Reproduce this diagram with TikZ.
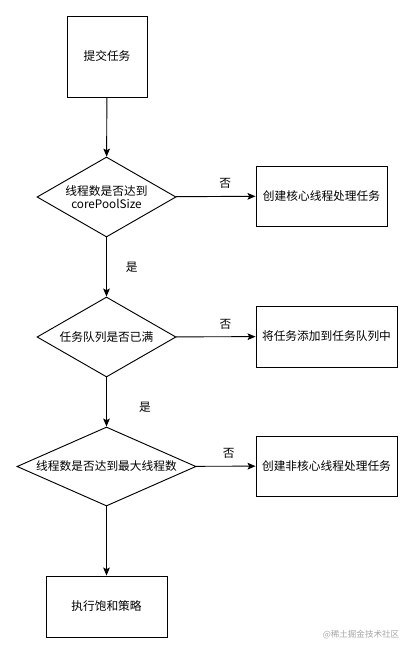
\documentclass[tikz,border=0pt]{standalone}
\usepackage{fontspec}
\setmainfont{Noto Sans CJK SC}
\usetikzlibrary{shapes.geometric,arrows.meta}
\begin{document}
\begin{tikzpicture}[x=.03cm,y=-.03cm,font=\fontsize{10}{11.5}\selectfont,
  box/.style={draw,line width=.8pt,inner sep=0pt},
  test/.style={draw,line width=.8pt,diamond,inner sep=0pt,align=center},
  flow/.style={line width=.8pt,-{Stealth[length=2.4mm,width=2mm,inset=.5mm]}}]
\useasboundingbox (0,0) rectangle (413,653);
\node[box,minimum width=2.4cm,minimum height=2.43cm] (submit) at (107,56.5) {提交任务};
\node[test,aspect=1.75,minimum width=4.17cm,minimum height=2.4cm] (core) at (106.5,197) {线程数是否达到\\corePoolSize};
\node[box,minimum width=3.93cm,minimum height=1.8cm] (newcore) at (321.5,196) {创建核心线程处理任务};
\node[test,aspect=1.75,minimum width=4.17cm,minimum height=2.4cm] (full) at (106.5,337) {任务队列是否已满};
\node[box,minimum width=4.23cm,minimum height=1.83cm] (enqueue) at (326.5,336.5) {将任务添加到任务队列中};
\node[test,aspect=2.24,minimum width=5.37cm,minimum height=2.37cm] (max) at (106.5,466.5) {线程数是否达到最大线程数};
\node[box,minimum width=4.23cm,minimum height=1.8cm] (newextra) at (326.5,466) {创建非核心线程处理任务};
\node[box,minimum width=3.63cm,minimum height=1.83cm] (reject) at (106.5,606.5) {执行饱和策略};
\node[text=black!35,font=\fontsize{7.3}{8}\selectfont] (wm) at (361,635) {@稀土掘金技术社区};
\draw[flow] (submit) -- (core);
\draw[flow] (core) -- node[above=1mm,pos=.62] {否} (newcore);
\draw[flow] (core) -- node[right=.45cm,pos=.5] {是} (full);
\draw[flow] (full) -- node[above=1mm,pos=.62] {否} (enqueue);
\draw[flow] (full) -- node[right=.85cm,pos=.6] {是} (max);
\draw[flow] (max) -- node[above=1mm,pos=.55] {否} (newextra);
\draw[flow] (max) -- (reject);
\end{tikzpicture}
\end{document}
